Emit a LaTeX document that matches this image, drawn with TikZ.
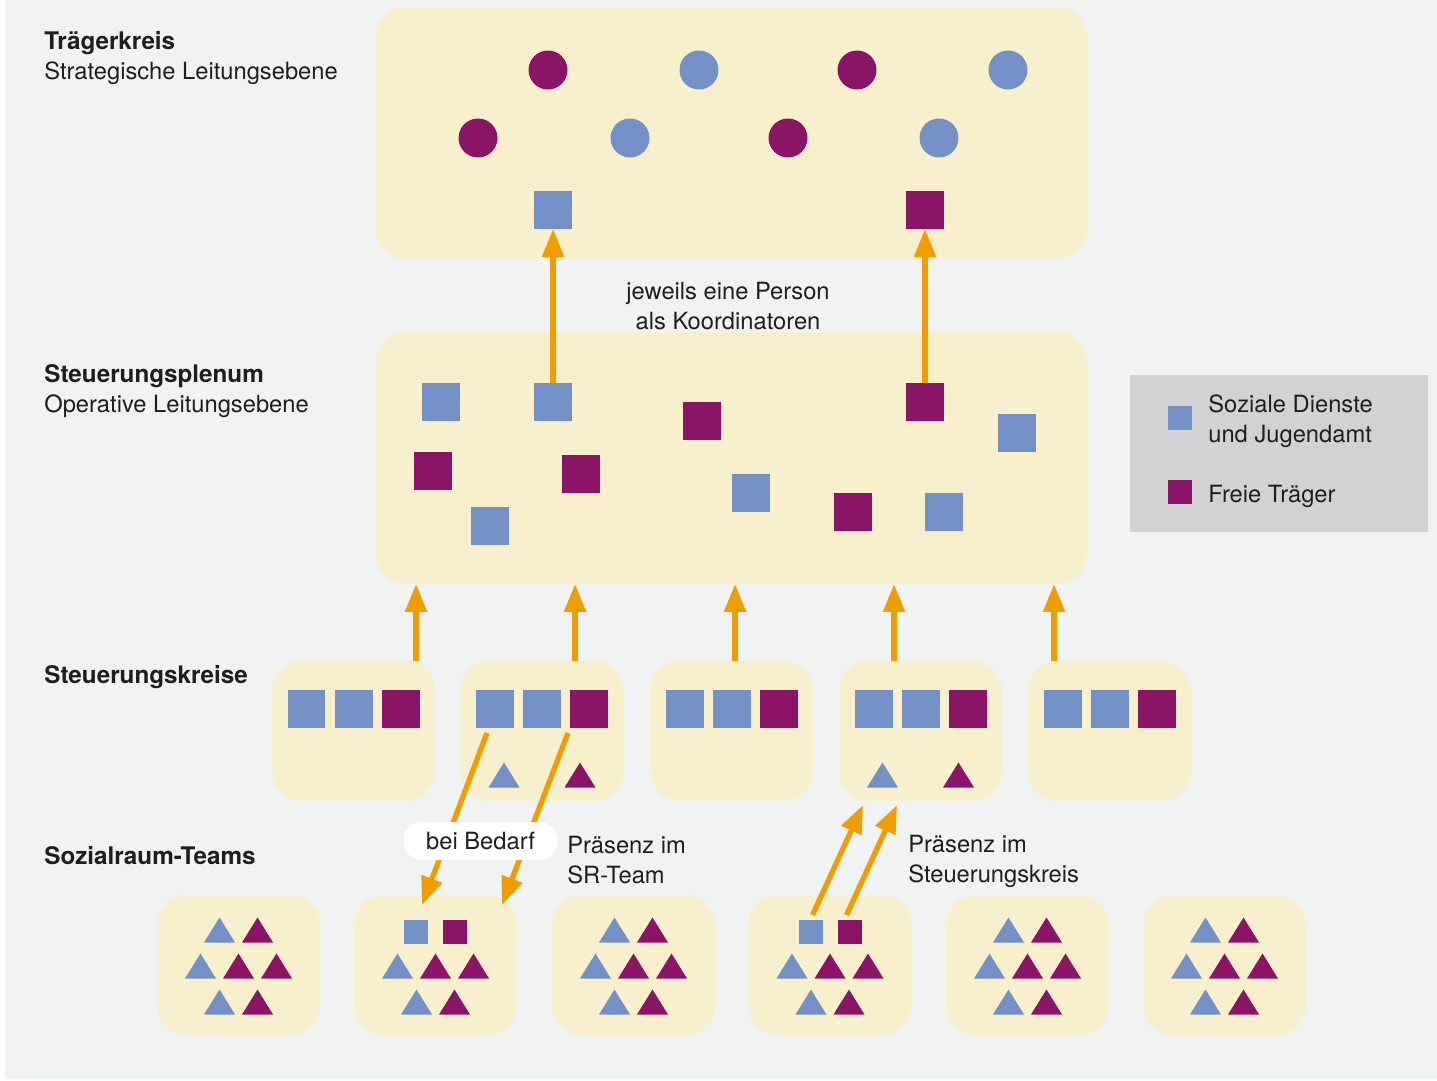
\documentclass[tikz,border=0pt]{standalone}
\usepackage{fontspec}
\setmainfont{TeX Gyre Heros}
\usepackage{tikz}
\usetikzlibrary{positioning,arrows.meta,calc,shapes.geometric}

\definecolor{bggray}{HTML}{F1F2F2}
\definecolor{yel}{HTML}{F8F0CC}
\definecolor{blu}{HTML}{7391C6}
\definecolor{pur}{HTML}{8C1466}
\definecolor{orng}{HTML}{F39C00}
\definecolor{leggray}{HTML}{D1D2D4}
\definecolor{txt}{HTML}{1E1E1E}

\tikzset{
  panel/.style={rectangle, fill=yel, rounded corners=0.6cm, inner sep=0, outer sep=0},
  sq/.style={rectangle, minimum size=0.76cm, inner sep=0, outer sep=0},
  smallsq/.style={rectangle, minimum size=0.48cm, inner sep=0, outer sep=0},
  dot/.style={circle, minimum size=0.78cm, inner sep=0, outer sep=0},
  arr/.style={draw=orng, line width=0.105cm, -{Triangle[width=0.42cm,length=0.56cm]}},
  lbl/.style={anchor=base west, inner sep=0, text=txt},
  tri/.pic={\fill (-15.5,12.5) -- (15.5,12.5) -- (0,-12.5) -- cycle;}
}

\begin{document}
\begin{tikzpicture}[x=0.02cm, y=-0.02cm, font=\fontsize{13.5}{17}\selectfont]
  % background
  \useasboundingbox (0,0) rectangle (1437,1081);
  \fill[white] (0,0) rectangle (1437,1081);
  \fill[bggray] (5,0) rectangle (1437,1079);

  % level labels
  \node[lbl, font=\fontsize{13.8}{17}\selectfont\bfseries] (lt) at (44,50) {Trägerkreis};
  \node[lbl] (lts) at (44,80) {Strategische Leitungsebene};
  \node[lbl, font=\fontsize{13.8}{17}\selectfont\bfseries] (lp) at (44,382) {Steuerungsplenum};
  \node[lbl] (lps) at (44,412) {Operative Leitungsebene};
  \node[lbl, font=\fontsize{13.8}{17}\selectfont\bfseries] (lk) at (44,683) {Steuerungskreise};
  \node[lbl, font=\fontsize{13.8}{17}\selectfont\bfseries] (ls) at (44,864) {Sozialraum-Teams};

  % Traegerkreis
  \node[panel, minimum width=14.22cm, minimum height=5.04cm] (traeger) at (731.5,133) {};
  \node[dot, fill=pur] (c1) at (548,70) {};
  \node[dot, fill=blu] (c2) at (699,70) {};
  \node[dot, fill=pur] (c3) at (857,70) {};
  \node[dot, fill=blu] (c4) at (1008,70) {};
  \node[dot, fill=pur] (c5) at (478,138) {};
  \node[dot, fill=blu] (c6) at (630,138) {};
  \node[dot, fill=pur] (c7) at (788,138) {};
  \node[dot, fill=blu] (c8) at (939,138) {};
  \node[sq, fill=blu] (t1) at (553,210) {};
  \node[sq, fill=pur] (t2) at (925,210) {};

  % Steuerungsplenum
  \node[panel, minimum width=14.22cm, minimum height=5.04cm] (plenum) at (731.5,458) {};
  \node[sq, fill=blu] (p1) at (441,402) {};
  \node[sq, fill=blu] (p2) at (553,402) {};
  \node[sq, fill=pur] (p3) at (702,421) {};
  \node[sq, fill=pur] (p4) at (925,402) {};
  \node[sq, fill=blu] (p5) at (1017,433) {};
  \node[sq, fill=pur] (p6) at (433,471) {};
  \node[sq, fill=pur] (p7) at (581,474) {};
  \node[sq, fill=blu] (p8) at (751,493) {};
  \node[sq, fill=pur] (p9) at (853,512) {};
  \node[sq, fill=blu] (p10) at (944,512) {};
  \node[sq, fill=blu] (p11) at (490,526) {};

  \draw[arr] (p2.north) -- (t1.south);
  \draw[arr] (p4.north) -- (t2.south);
  \node[text=txt, inner sep=0, anchor=base] (koord) at (728,299) {jeweils eine Person};
  \node[text=txt, inner sep=0, anchor=base] (koord2) at (728,329) {als Koordinatoren};

  % legend
  \fill[leggray] (1130,375) rectangle (1428,532);
  \node[smallsq, fill=blu] (legb) at (1180,418) {};
  \node[smallsq, fill=pur] (legp) at (1180,492) {};
  \node[lbl] (legb1) at (1208,412) {Soziale Dienste};
  \node[lbl] (legb2) at (1208,442) {und Jugendamt};
  \node[lbl] (legp1) at (1208,502) {Freie Träger};

  % Steuerungskreise
  \foreach \i/\cx in {1/353.5, 2/542, 3/731.5, 4/920.5, 5/1109.5} {
    \node[panel, minimum width=3.26cm, minimum height=2.8cm] (k\i) at (\cx,731) {};
    \node[sq, fill=blu] (k\i-a) at (\cx-47,709) {};
    \node[sq, fill=blu] (k\i-b) at (\cx,709) {};
    \node[sq, fill=pur] (k\i-c) at (\cx+47,709) {};
  }
  \foreach \i in {2,4} {
    \pic[blu] at ($(k\i)+(-38,44)$) {tri};
    \pic[pur] at ($(k\i)+(38,44)$) {tri};
  }
  \foreach \i/\ax in {1/416, 2/575, 3/735, 4/894, 5/1054} {
    \coordinate (up\i) at (\ax,661);
    \draw[arr] (up\i) -- (up\i |- plenum.south);
  }

  % Sozialraum-Teams
  \foreach \i/\cx in {1/238.5, 2/435.5, 3/633.5, 4/830, 5/1027.5, 6/1224.5} {
    \node[panel, minimum width=3.26cm, minimum height=2.8cm] (r\i) at (\cx,965) {};
    \pic[blu] at (\cx-38,966) {tri};
    \pic[pur] at (\cx,966) {tri};
    \pic[pur] at (\cx+38,966) {tri};
    \pic[blu] at (\cx-19,1002) {tri};
    \pic[pur] at (\cx+19,1002) {tri};
  }
  \foreach \i in {1,3,5,6} {
    \pic[blu] at ($(r\i)+(-19,-35)$) {tri};
    \pic[pur] at ($(r\i)+(19,-35)$) {tri};
  }
  \foreach \i in {2,4} {
    \node[smallsq, fill=blu] (r\i-a) at ($(r\i)+(-19.5,-33)$) {};
    \node[smallsq, fill=pur] (r\i-b) at ($(r\i)+(19.5,-33)$) {};
  }

  % bei Bedarf
  \coordinate (bb1) at (422,905);
  \coordinate (bb2) at (502,905);
  \draw[arr] ($(k2-a.south)+(-8,5)$) -- (bb1);
  \draw[arr] ($(k2-c.south)+(-21,5)$) -- (bb2);
  \node[fill=white, rounded corners=0.36cm, minimum width=3.08cm, minimum height=0.76cm,
        inner sep=0, text=txt] (bedarf) at (480.5,841) {bei Bedarf};
  \node[lbl] (sr1) at (567,853) {Präsenz im};
  \node[lbl] (sr2) at (567,883) {SR-Team};

  % Praesenz im Steuerungskreis
  \coordinate (ps1) at (863,805);
  \coordinate (ps2) at (897,805);
  \draw[arr] ($(r4-a.north)+(2,-5)$) -- (ps1);
  \draw[arr] ($(r4-b.north)+(-3,-5)$) -- (ps2);
  \node[lbl] (sk1) at (908,852) {Präsenz im};
  \node[lbl] (sk2) at (908,882) {Steuerungskreis};
\end{tikzpicture}
\end{document}
